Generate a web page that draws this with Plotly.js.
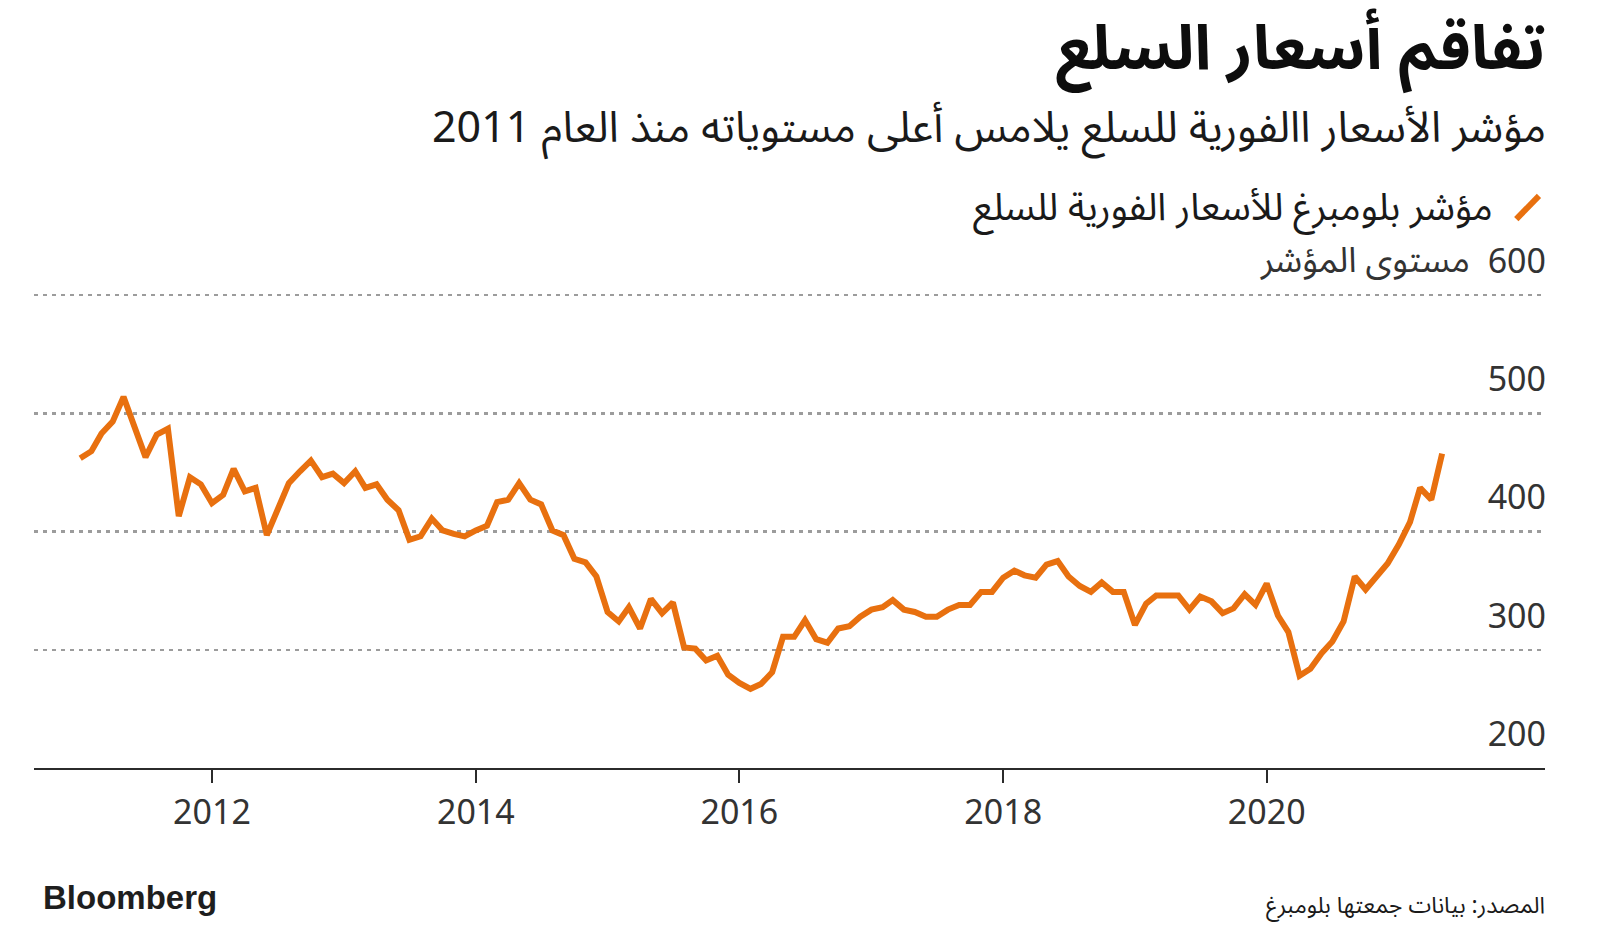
<!DOCTYPE html>
<html>
<head>
<meta charset="utf-8">
<script src="https://cdn.plot.ly/plotly-3.0.1.min.js"></script>
<style>
  html, body { margin: 0; padding: 0; background: #ffffff; }
  #chart { width: 1600px; height: 929px; }
</style>
</head>
<body>
<div id="chart"></div>
<script>
// Monthly values, Jan 2011 .. May 2021 (Bloomberg Spot Commodity Index)
const startYear = 2011;
const values2011 = [462, 468, 483, 493, 514, 488, 463, 482, 487, 413, 446, 440];
const values2012 = [424, 431, 453, 434, 437, 397, 418, 441, 451, 460, 446, 449];
const values2013 = [441, 451, 437, 440, 427, 418, 393, 396, 411, 401, 398, 396];
const values2014 = [401, 405, 425, 427, 441, 427, 423, 401, 397, 377, 374, 362];
const values2015 = [332, 324, 336, 318, 343, 331, 340, 302, 301, 291, 295, 279];
const values2016 = [272, 267, 271, 281, 311, 311, 325, 309, 306, 318, 320, 328];
const values2017 = [334, 336, 342, 334, 332, 328, 328, 334, 338, 338, 349, 349];
const values2018 = [361, 367, 363, 361, 372, 375, 362, 354, 349, 357, 349, 349];
const values2019 = [321, 339, 346, 346, 346, 334, 345, 341, 331, 335, 347, 338];
const values2020 = [356, 329, 315, 278, 284, 297, 307, 324, 362, 351, 362, 373];
const values2021 = [389, 408, 437, 427, 466];

const yTickVals = [200, 300, 400, 500, 600];
const xTickVals = ['2012-01-01', '2014-01-01', '2016-01-01', '2018-01-01', '2020-01-01'];
const xTickText = ['2012', '2014', '2016', '2018', '2020'];

const titleText = 'تفاقم أسعار السلع';
const subtitleText = 'مؤشر الأسعار االفورية للسلع يلامس أعلى مستوياته منذ العام 2011';
const seriesName = 'مؤشر بلومبرغ للأسعار الفورية للسلع';
const unitText = 'مستوى المؤشر';
const sourceText = 'المصدر: بيانات جمعتها بلومبرغ';
const brandText = 'Bloomberg';

const allValues = [].concat(values2011, values2012, values2013, values2014, values2015,
  values2016, values2017, values2018, values2019, values2020, values2021);
const dates = allValues.map((v, i) => {
  const y = startYear + Math.floor(i / 12);
  const m = (i % 12) + 1;
  return y + '-' + String(m).padStart(2, '0') + '-01';
});

const orange = '#e8700f';
const arabicFont = '"Noto Sans Arabic", "DejaVu Sans", sans-serif';
const numFont = '"Noto Sans", "Open Sans", sans-serif';

const trace = {
  x: dates,
  y: allValues,
  type: 'scatter',
  mode: 'lines',
  name: seriesName,
  line: { color: orange, width: 6, shape: 'linear' },
  hoverinfo: 'skip',
  showlegend: false
};

const layout = {
  width: 1600,
  height: 929,
  margin: { l: 34, r: 55, t: 294, b: 161, pad: 0 },
  paper_bgcolor: '#ffffff',
  plot_bgcolor: '#ffffff',
  showlegend: false,
  xaxis: {
    type: 'date',
    range: ['2010-08-26', '2022-02-10'],
    tickvals: xTickVals,
    ticktext: xTickText,
    showgrid: false,
    zeroline: false,
    showline: true,
    linecolor: '#2b2b2b',
    linewidth: 2,
    ticks: 'outside',
    ticklen: 13,
    tickwidth: 2,
    tickcolor: '#2b2b2b',
    tickfont: { family: numFont, size: 34, color: '#333333' },
    fixedrange: true
  },
  yaxis: {
    range: [200, 601],
    side: 'right',
    tickvals: yTickVals,
    ticklabelposition: 'inside',
    ticklabeloverflow: 'allow',
    ticklabelshift: -34,
    ticklabelstandoff: -4,
    ticks: '',
    showline: false,
    zeroline: false,
    showgrid: true,
    gridcolor: '#9c9c9c',
    gridwidth: 2.5,
    griddash: '4px,5px',
    tickfont: { family: numFont, size: 34, color: '#333333' },
    fixedrange: true
  },
  shapes: [
    {
      type: 'line', xref: 'paper', yref: 'paper',
      x0: 0.981, x1: 0.996, y0: 1.158, y1: 1.207,
      line: { color: orange, width: 6 }
    }
  ],
  annotations: [
    {
      text: '<b>' + titleText + '</b>', xref: 'paper', yref: 'paper',
      x: 1.002, y: 1.515, xanchor: 'right', yanchor: 'middle', showarrow: false,
      font: { family: arabicFont, size: 62, color: '#0d0d0d' }
    },
    {
      text: subtitleText, xref: 'paper', yref: 'paper',
      x: 1.002, y: 1.350, xanchor: 'right', yanchor: 'middle', showarrow: false,
      font: { family: arabicFont, size: 43, color: '#1a1a1a' }
    },
    {
      text: seriesName, xref: 'paper', yref: 'paper',
      x: 0.967, y: 1.182, xanchor: 'right', yanchor: 'middle', showarrow: false,
      font: { family: arabicFont, size: 38, color: '#1a1a1a' }
    },
    {
      text: unitText, xref: 'paper', yref: 'paper',
      x: 0.952, y: 1.070, xanchor: 'right', yanchor: 'middle', showarrow: false,
      font: { family: arabicFont, size: 35, color: '#333333' }
    },
    {
      text: sourceText, xref: 'paper', yref: 'paper',
      x: 1.001, y: -0.291, xanchor: 'right', yanchor: 'middle', showarrow: false,
      font: { family: arabicFont, size: 23, color: '#1a1a1a' }
    },
    {
      text: '<b>' + brandText + '</b>', xref: 'paper', yref: 'paper',
      x: 0.0046, y: -0.274, xanchor: 'left', yanchor: 'middle', showarrow: false,
      font: { family: '"Liberation Sans", Arial, sans-serif', size: 33, color: '#1e1e1e' }
    }
  ]
};

Plotly.newPlot('chart', [trace], layout, { staticPlot: true, displayModeBar: false, responsive: false });
</script>
</body>
</html>
